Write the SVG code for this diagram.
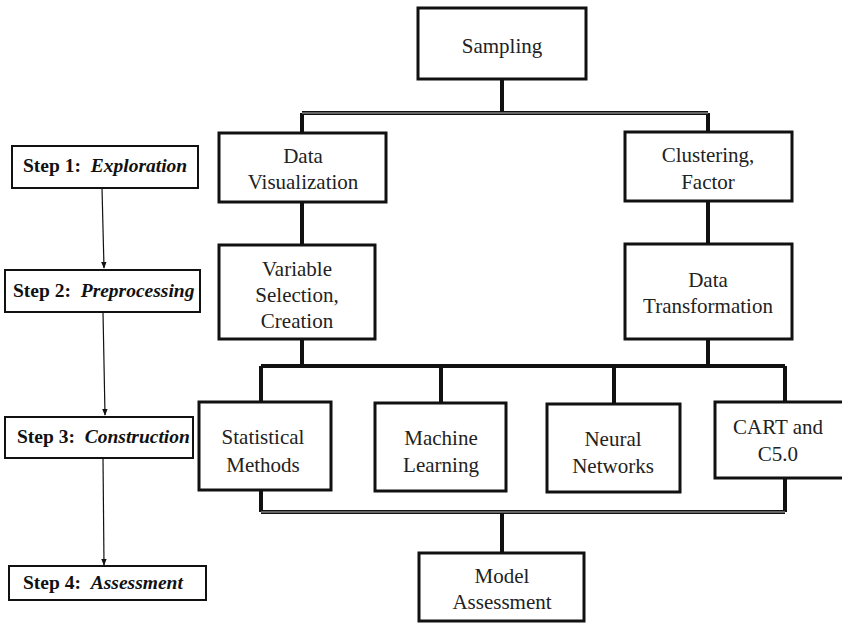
<svg xmlns="http://www.w3.org/2000/svg" width="842" height="623" viewBox="0 0 842 623">
<defs>
<marker id="arr" viewBox="0 0 10 10" refX="9" refY="5" markerWidth="7" markerHeight="7" orient="auto" markerUnits="userSpaceOnUse">
<path d="M0,1 L10,5 L0,9 Z" fill="#111"/>
</marker>
<style>
.box{fill:#fff;stroke:#111;stroke-width:3}
.sbox{fill:#fff;stroke:#111;stroke-width:2}
.t{font-family:"Liberation Serif",serif;font-size:21px;fill:#222;text-anchor:middle}
.s{font-family:"Liberation Serif",serif;font-size:19.5px;font-weight:bold;fill:#111}
.i{font-style:italic}
.c1{fill:none;stroke:#111;stroke-width:4}
.c2{fill:none;stroke:#bbb;stroke-width:1}
.a{fill:none;stroke:#111;stroke-width:1.2}
</style>
</defs>
<rect width="842" height="623" fill="#fff"/>
<g id="connectors">
<path class="c1" d="M502,79 V113 M302,113 H708 M302,113 V133 M708,113 V132 M302,202 V245 M708,201 V244 M302,339 V366 M708,339 V366 M261,366 H785 M261,366 V402 M441,366 V403 M614,366 V404 M785,366 V402 M261,490 V512 M785,478 V512 M261,512 H785 M502,512 V553"/>
<path class="c2" d="M302,113 H708 M261,512 H785"/>
<path class="a" d="M102,188 L104,268" marker-end="url(#arr)"/>
<path class="a" d="M103,312 L105,415" marker-end="url(#arr)"/>
<path class="a" d="M103,458 L104,565" marker-end="url(#arr)"/>
</g>
<g id="sampling"><rect class="box" x="418" y="8" width="168" height="71"/><text class="t" x="502" y="53">Sampling</text></g>
<g id="dataviz"><rect class="box" x="219" y="133" width="167" height="69"/><text class="t" x="303" y="163">Data</text><text class="t" x="303" y="189">Visualization</text></g>
<g id="clustering"><rect class="box" x="625" y="132" width="167" height="69"/><text class="t" x="708" y="162">Clustering,</text><text class="t" x="708" y="189">Factor</text></g>
<g id="varsel"><rect class="box" x="219" y="245" width="156" height="94"/><text class="t" x="297" y="276">Variable</text><text class="t" x="297" y="302">Selection,</text><text class="t" x="297" y="328">Creation</text></g>
<g id="datatrans"><rect class="box" x="625" y="244" width="167" height="95"/><text class="t" x="708" y="287">Data</text><text class="t" x="708" y="313">Transformation</text></g>
<g id="statistical"><rect class="box" x="199" y="402" width="132" height="88"/><text class="t" x="263" y="444">Statistical</text><text class="t" x="263" y="472">Methods</text></g>
<g id="machine"><rect class="box" x="375" y="403" width="131" height="88"/><text class="t" x="441" y="445">Machine</text><text class="t" x="441" y="472">Learning</text></g>
<g id="neural"><rect class="box" x="547" y="404" width="133" height="88"/><text class="t" x="613" y="446">Neural</text><text class="t" x="613" y="473">Networks</text></g>
<g id="cart"><rect class="box" x="715" y="402" width="140" height="76"/><text class="t" x="778" y="434">CART and</text><text class="t" x="778" y="461">C5.0</text></g>
<g id="model"><rect class="box" x="419" y="553" width="165" height="68"/><text class="t" x="502" y="583">Model</text><text class="t" x="502" y="609">Assessment</text></g>
<g id="step1"><rect class="sbox" x="12" y="146" width="186" height="42"/><text class="s" x="23" y="172" xml:space="preserve">Step 1:  <tspan class="i">Exploration</tspan></text></g>
<g id="step2"><rect class="sbox" x="5" y="270" width="195" height="42"/><text class="s" x="13" y="297" xml:space="preserve">Step 2:  <tspan class="i">Preprocessing</tspan></text></g>
<g id="step3"><rect class="sbox" x="5" y="417" width="188" height="41"/><text class="s" x="17" y="443" xml:space="preserve">Step 3:  <tspan class="i">Construction</tspan></text></g>
<g id="step4"><rect class="sbox" x="9" y="566" width="197" height="34"/><text class="s" x="23" y="589" xml:space="preserve">Step 4:  <tspan class="i">Assessment</tspan></text></g>
</svg>
